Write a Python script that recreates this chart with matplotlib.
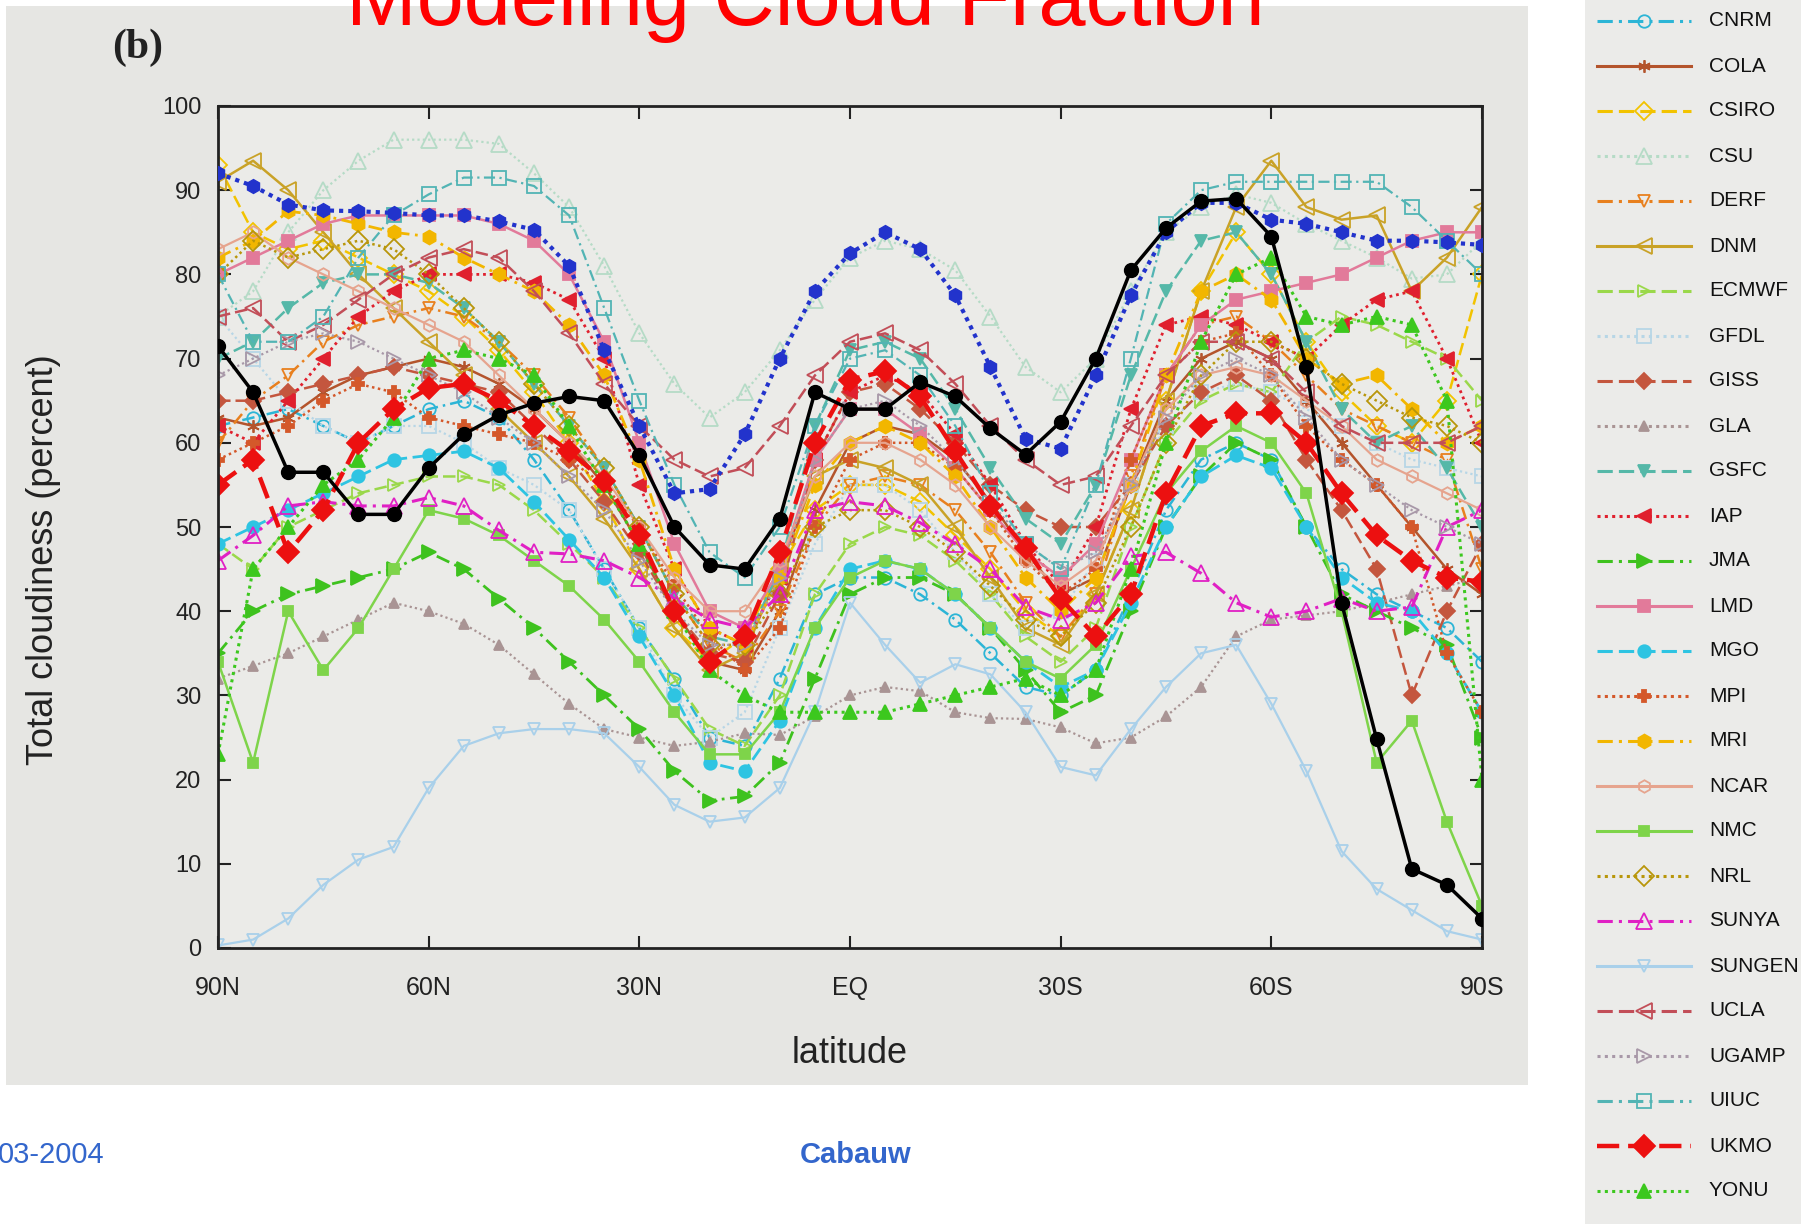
import matplotlib
matplotlib.use("Agg")
import matplotlib.pyplot as plt
from matplotlib.patches import Rectangle

plt.rcParams['font.family'] = ['Liberation Sans', 'DejaVu Sans']

# latitude grid, 90N -> 90S
lat = [90, 85, 80, 75, 70, 65, 60, 55, 50, 45, 40, 35, 30, 25, 20, 15, 10, 5, 0,
       -5, -10, -15, -20, -25, -30, -35, -40, -45, -50, -55, -60, -65, -70, -75, -80, -85, -90]

# observations (not in legend)
obs_black = [71.5, 66, 56.5, 56.5, 51.5, 51.5, 57, 61, 63.3, 64.7, 65.5, 65, 58.5, 50, 45.5, 45, 51, 66, 64,
             64, 67.2, 65.5, 61.7, 58.6, 62.5, 70, 80.5, 85.5, 88.7, 89, 84.5, 69, 41, 24.8, 9.4, 7.5, 3.5]
obs_blue = [92, 90.5, 88.3, 87.6, 87.5, 87.3, 87, 87, 86.3, 85.3, 81, 71, 62, 54, 54.5, 61, 70, 78, 82.5,
            85, 83, 77.5, 69, 60.5, 59.3, 68, 77.5, 85, 88.5, 88.5, 86.5, 86, 85, 84, 84, 83.8, 83.5]

# models
CNRM = [62, 63, 64, 62, 60, 62, 64, 65, 63, 58, 52, 45, 38, 32, 25, 24, 32, 42, 44,
        44, 42, 39, 35, 31, 30, 33, 42, 52, 58, 60, 58, 50, 45, 42, 40, 38, 34]
COLA = [63, 62, 63, 66, 68, 69, 70, 69, 67, 64, 60, 55, 48, 40, 34, 33, 40, 52, 60,
        62, 61, 58, 53, 47, 42, 44, 55, 65, 70, 72, 70, 65, 60, 55, 50, 45, 42]
CSIRO = [93, 85, 83, 84, 82, 80, 78, 75, 71, 66, 60, 53, 45, 38, 34, 37, 45, 52, 55,
         55, 53, 49, 45, 40, 37, 42, 52, 65, 78, 85, 80, 72, 66, 62, 60, 65, 80]
CSU = [75, 78, 85, 90, 93.5, 96, 96, 96, 95.5, 92, 88, 81, 73, 67, 63, 66, 71, 77, 82,
       84, 83, 80.5, 75, 69, 66, 70, 78, 85, 88, 89.5, 88.5, 86, 84, 82, 79.5, 80, 84]
DERF = [60, 65, 68, 72, 74, 75, 76, 75, 72, 68, 63, 57, 50, 42, 36, 34, 40, 50, 55,
        56, 55, 52, 47, 41, 37, 42, 56, 68, 74, 75, 72, 68, 64, 62, 60, 58, 45]
DNM = [91, 93.5, 90, 85, 80, 76, 72, 68, 64, 60, 56, 51, 45, 38, 33, 35, 45, 56, 58,
       57, 55, 50, 44, 38, 36, 42, 52, 65, 78, 88, 93.5, 88, 86.5, 87, 78, 82, 88]
ECMWF = [48, 45, 50, 52, 54, 55, 56, 56, 55, 52, 48, 44, 38, 32, 26, 24, 30, 42, 48,
         50, 49, 46, 42, 37, 34, 38, 50, 60, 65, 67, 66, 72, 75, 74, 72, 70, 65]
GFDL = [75, 70, 65, 62, 60, 62, 62, 60, 57, 55, 52, 45, 38, 30, 25, 28, 38, 48, 55,
        55, 52, 47, 42, 38, 40, 46, 55, 62, 66, 67, 66, 64, 62, 60, 58, 57, 56]
GISS = [65, 65, 66, 67, 68, 69, 68, 67, 66, 62, 58, 53, 47, 40, 35, 34, 42, 58, 66,
        67, 64, 60, 55, 52, 50, 50, 55, 62, 66, 68, 65, 58, 52, 45, 30, 40, 48]
GLA = [32, 33.5, 35, 37, 39, 41, 40, 38.5, 36, 32.5, 29, 26, 25, 24, 24.5, 25.5, 25.3, 27.5, 30,
       31, 30.5, 28, 27.3, 27.2, 26.2, 24.3, 25, 27.5, 31, 37, 39, 39.5, 40, 41, 42, 43, 44]
GSFC = [70, 72, 76, 79, 80, 80, 79, 76, 72, 67, 62, 57, 50, 42, 37, 36, 45, 62, 71,
        72, 70, 64, 57, 51, 48, 55, 68, 78, 84, 85, 80, 72, 64, 60, 62, 57, 50]
IAP = [62, 60, 65, 70, 75, 78, 80, 80, 80, 79, 77, 70, 55, 45, 38, 36, 44, 58, 66,
       68, 66, 61, 55, 48, 43, 50, 64, 74, 75, 74, 72, 70, 74, 77, 78, 70, 60]
JMA = [35, 40, 42, 43, 44, 45, 47, 45, 41.5, 38, 34, 30, 26, 21, 17.5, 18, 22, 32, 42,
       44, 44, 42, 38, 33, 28, 30, 40, 50, 56, 60, 58, 50, 42, 40, 38, 36, 25]
LMD = [80, 82, 84, 86, 87, 87, 87, 87, 86, 84, 80, 72, 60, 48, 40, 38, 45, 58, 64,
       64, 61, 57, 52, 47, 44, 48, 58, 68, 74, 77, 78, 79, 80, 82, 84, 85, 85]
MGO = [48, 50, 52, 54, 56, 58, 58.5, 59, 57, 53, 48.5, 44, 37, 30, 22, 21, 27, 38, 45,
       46, 45, 42, 38, 34, 31, 33, 41, 50, 56, 58.5, 57, 50, 44, 41, 40, 35, 28]
MPI = [58, 60, 62, 65, 67, 66, 63, 62, 61, 60, 58, 55, 50, 43, 37, 33, 38, 50, 58,
       60, 60, 57, 52, 46, 42, 45, 58, 68, 72, 73, 68, 62, 58, 55, 50, 35, 28]
MRI = [82, 84, 87.5, 87, 86, 85, 84.5, 82, 80, 78, 74, 68, 58, 45, 38, 36, 44, 55, 60,
       62, 60, 56, 50, 44, 40, 44, 55, 68, 78, 80, 77, 70, 67, 68, 64, 60, 62]
NCAR = [83, 85, 82, 80, 78, 76, 74, 72, 68, 64, 60, 56, 50, 44, 40, 40, 46, 56, 60,
        60, 58, 55, 50, 46, 43, 46, 55, 64, 68, 69, 68, 65, 62, 58, 56, 54, 52]
NMC = [34, 22, 40, 33, 38, 45, 52, 51, 49, 46, 43, 39, 34, 28, 23, 23, 28, 38, 44,
       46, 45, 42, 38, 34, 32, 36, 45, 54, 59, 62, 60, 54, 40, 22, 27, 15, 5]
NRL = [80, 84, 82, 83, 84, 83, 80, 76, 72, 67, 62, 57, 50, 42, 36, 36, 42, 50, 52,
       52, 50, 47, 43, 39, 37, 41, 50, 60, 68, 72, 72, 70, 67, 65, 63, 62, 60]
SUNYA = [46, 49, 52.5, 53, 52.5, 52.5, 53.5, 52.5, 49.6, 47, 46.8, 46, 44, 41.5, 39, 38, 42, 52, 53,
         52.5, 50.5, 48, 45, 40.5, 39, 41, 46.5, 47, 44.5, 41, 39.3, 40, 41.5, 40, 40.5, 50, 52]
SUNGEN = [0.3, 1, 3.5, 7.5, 10.5, 12, 19, 24, 25.5, 26, 26, 25.5, 21.5, 17, 15, 15.5, 19, 28, 41,
          36, 31.5, 33.7, 32.5, 28, 21.5, 20.5, 26, 31, 35, 36, 29, 21, 11.5, 7, 4.5, 2, 1]
UCLA = [75, 76, 72, 74, 77, 80, 82, 83, 82, 78, 73, 67, 62, 58, 56, 57, 62, 68, 72,
        73, 71, 67, 62, 58, 55, 56, 62, 68, 72, 72, 70, 66, 62, 60, 60, 60, 62]
UGAMP = [68, 70, 72, 73, 72, 70, 68, 66, 63, 60, 56, 52, 46, 40, 36, 36, 44, 58, 64,
         65, 62, 58, 53, 48, 45, 47, 55, 63, 68, 70, 68, 63, 58, 55, 52, 50, 48]
UIUC = [80, 72, 72, 75, 82, 87, 89.5, 91.5, 91.5, 90.5, 87, 76, 65, 55, 47, 44, 50, 62, 70,
        71, 68, 62, 54, 48, 45, 55, 70, 86, 90, 91, 91, 91, 91, 91, 88, 84, 80]
UKMO = [55, 58, 47, 52, 60, 64, 66.5, 67, 65, 62, 59, 55.5, 49, 40, 34, 37, 47, 60, 67.5,
        68.5, 65.5, 59, 52.5, 47.5, 41.5, 37, 42, 54, 62, 63.5, 63.5, 60, 54, 49, 46, 44, 43.5]
YONU = [23, 45, 50, 55, 58, 63, 70, 71, 70, 68, 62, 55, 48, 40, 33, 30, 28, 28, 28,
        28, 29, 30, 31, 32, 30, 33, 45, 60, 72, 80, 82, 75, 74, 75, 74, 65, 20]

models = ["CNRM", "COLA", "CSIRO", "CSU", "DERF", "DNM", "ECMWF", "GFDL", "GISS",
          "GLA", "GSFC", "IAP", "JMA", "LMD", "MGO", "MPI", "MRI", "NCAR", "NMC",
          "NRL", "SUNYA", "SUNGEN", "UCLA", "UGAMP", "UIUC", "UKMO", "YONU"]
series = [CNRM, COLA, CSIRO, CSU, DERF, DNM, ECMWF, GFDL, GISS, GLA, GSFC, IAP, JMA,
          LMD, MGO, MPI, MRI, NCAR, NMC, NRL, SUNYA, SUNGEN, UCLA, UGAMP, UIUC, UKMO, YONU]

SOLID = '-'
DASH = (0, (5, 2))
DOT = (0, (1, 1.4))
DASHDOT = (0, (5, 2, 1, 2))

# color, linestyle, marker, filled, linewidth, markersize
styles = {
    "CNRM": ("#2cb5d6", DASHDOT, "o", False, 1.8, 9),
    "COLA": ("#b4542c", SOLID, (6, 2, 0), True, 1.8, 9),
    "CSIRO": ("#f2c300", DASH, "D", False, 1.8, 9),
    "CSU": ("#b5dbc6", DOT, "^", False, 1.6, 11),
    "DERF": ("#e8801e", DASHDOT, "v", False, 1.8, 9),
    "DNM": ("#c9a227", SOLID, "<", False, 1.8, 11),
    "ECMWF": ("#9ad84a", DASH, ">", False, 1.8, 9),
    "GFDL": ("#b7d6e6", DOT, "s", False, 1.6, 10),
    "GISS": ("#c4563e", DASH, "D", True, 1.8, 8),
    "GLA": ("#a99494", DOT, "^", True, 1.6, 7),
    "GSFC": ("#55b8a8", DASH, "v", True, 1.8, 9),
    "IAP": ("#e0202e", DOT, "<", True, 2.0, 10),
    "JMA": ("#3ec21e", DASHDOT, ">", True, 2.0, 10),
    "LMD": ("#e27a9a", SOLID, "s", True, 1.8, 8),
    "MGO": ("#2ec4e2", DASH, "o", True, 2.0, 9),
    "MPI": ("#d4582a", DOT, "P", True, 1.8, 9),
    "MRI": ("#f2b600", DASHDOT, "h", True, 2.0, 10),
    "NCAR": ("#e6a48e", SOLID, "h", False, 1.6, 9),
    "NMC": ("#7ed44a", SOLID, "s", True, 1.8, 7),
    "NRL": ("#b8960a", DOT, "D", False, 1.8, 10),
    "SUNYA": ("#e020c4", DASHDOT, "^", False, 2.2, 11),
    "SUNGEN": ("#a9d0ea", SOLID, "v", False, 1.6, 9),
    "UCLA": ("#c24e58", DASH, "<", False, 1.8, 11),
    "UGAMP": ("#a898a8", DOT, ">", False, 1.6, 10),
    "UIUC": ("#52b4b4", DASHDOT, "s", False, 1.6, 10),
    "UKMO": ("#ec1010", DASH, "D", True, 3.2, 11),
    "YONU": ("#3cc81e", DOT, "^", True, 2.2, 10),
}

W, H = 1801, 1224
fig = plt.figure(figsize=(W / 100, H / 100), dpi=100)
fig.patch.set_facecolor('white')

# scanned panel and legend panel backgrounds
fig.add_artist(Rectangle((6 / W, 1 - 1085 / H), (1528 - 6) / W, (1085 - 6) / H,
                         transform=fig.transFigure, facecolor='#e6e6e3',
                         edgecolor='none', zorder=-5))
fig.add_artist(Rectangle((1585 / W, 0), (W - 1585) / W, 1,
                         transform=fig.transFigure, facecolor='#ebebe9',
                         edgecolor='none', zorder=-5))

ax = fig.add_axes([218 / W, 1 - 948 / H, (1482 - 218) / W, (948 - 106) / H])
ax.set_facecolor('#ebebe8')

order = [m for m in models if m != "UKMO"] + ["UKMO"]
for name in order:
    vals = series[models.index(name)]
    c, ls, mk, filled, lw, ms = styles[name]
    ax.plot(lat, vals, color=c, ls=ls, lw=lw, marker=mk, ms=ms,
            mfc=c if filled else 'none', mec=c, mew=1.3)

ax.plot(lat, obs_blue, color='#2233cc', ls=(0, (1, 1.2)), lw=3, marker='h', ms=10, zorder=5)
ax.plot(lat, obs_black, color='black', ls='-', lw=2.5, marker='o', ms=10, zorder=6)

ax.set_xlim(90, -90)
ax.set_ylim(0, 100)
ax.set_xticks([90, 60, 30, 0, -30, -60, -90])
ax.set_xticklabels(['90N', '60N', '30N', 'EQ', '30S', '60S', '90S'])
ax.set_yticks([0, 10, 20, 30, 40, 50, 60, 70, 80, 90, 100])
ax.tick_params(direction='in', length=9, width=1.5, top=True, right=True,
               labelsize=18, colors='#222222')
ax.tick_params(axis='x', pad=20)
ax.tick_params(axis='y', pad=12, labelsize=17)
for s in ax.spines.values():
    s.set_linewidth(2)
    s.set_color('#222222')

ax.set_ylabel('Total cloudiness (percent)', fontsize=26, color='#222222')
ax.yaxis.set_label_coords(-0.124, 0.461)
ax.set_xlabel('latitude', fontsize=26, color='#222222')
ax.xaxis.set_label_coords(0.5, -0.105)

# legend panel
lax = fig.add_axes([1585 / W, 0, (W - 1585) / W, 1])
lax.set_xlim(0, W - 1585)
lax.set_ylim(H, 0)
lax.axis('off')
for i, name in enumerate(models):
    c, ls, mk, filled, lw, ms = styles[name]
    y = 21 + i * 45
    lax.plot([12, 59, 106], [y, y, y], color=c, ls=ls, lw=max(lw, 2.2), marker=mk, ms=ms,
             mfc=c if filled else 'none', mec=c, mew=1.3, markevery=[1])
    lax.text(124, y, name, fontsize=15, va='center', ha='left', color='#111111')

fig.text(805 / W, 1 - 25 / H, 'Modeling Cloud Fraction', color='#ff0000', fontsize=61,
         ha='center', va='baseline')
fig.text(138 / W, 1 - 48 / H, '(b)', family='Liberation Serif', fontweight='bold',
         fontsize=30, ha='center', va='center', color='#222222')
fig.text(-2 / W, 1 - 1155 / H, '03-2004', color='#3366cc', fontsize=21, ha='left', va='center')
fig.text(856 / W, 1 - 1155 / H, 'Cabauw', color='#3366cc', fontsize=21, fontweight='bold',
         ha='center', va='center')

fig.savefig('out.png', dpi=100)
